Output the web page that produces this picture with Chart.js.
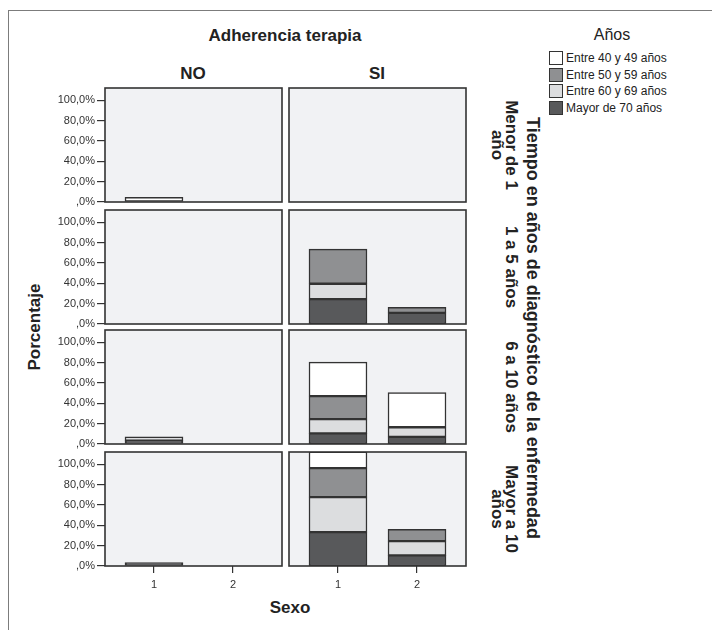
<!DOCTYPE html>
<html>
<head>
<meta charset="utf-8">
<script src="https://cdn.jsdelivr.net/npm/chart.js@4.4.1/dist/chart.umd.min.js"></script>
<style>
  body { margin: 0; background: #fff; font-family: "Liberation Sans", Arial, sans-serif; color: #222; }
  #stage { position: relative; width: 712px; height: 630px; overflow: hidden; }
  .frame { position: absolute; left: 8px; top: 10px; width: 720px; height: 640px; border: 1.5px solid #7c7c7c; }
  canvas { position: absolute; }
  .lbl { position: absolute; white-space: nowrap; font-weight: bold; font-size: 17px; text-align: center; line-height: 14px; transform: translate(-50%, -50%); }
  .rot90 { transform: translate(-50%, -50%) rotate(90deg); }
  .rotm90 { transform: translate(-50%, -50%) rotate(-90deg); }
  .legend { position: absolute; left: 549px; top: 50px; font-size: 12px; }
  .legend div { height: 16.5px; display: flex; align-items: center; }
  .legend span.box { width: 14px; height: 14px; border: 1px solid #333; margin-right: 3px; box-sizing: border-box; }
</style>
</head>
<body>
<div id="stage">
  <div class="frame"></div>
  <div class="lbl" style="left:285px; top:36px;">Adherencia terapia</div>
  <div class="lbl" style="left:193px; top:74px;">NO</div>
  <div class="lbl" style="left:377px; top:74px;">SI</div>
  <div class="lbl rotm90" style="left:35px; top:327px;">Porcentaje</div>
  <div class="lbl" style="left:290px; top:608px;">Sexo</div>
  <div class="lbl rot90" style="left:533px; top:328px; font-size:18px;">Tiempo en años de diagnóstico de la enfermedad</div>
  <div class="lbl" style="left:612px; top:35px; font-weight:normal; font-size:16px;">Años</div>
  <div class="legend" id="legend"></div>
</div>
<script>
const sexo = [1, 2];
const adherencia = ["NO", "SI"];
const tiempos = [["Menor de 1", "año"], ["1 a 5 años"], ["6 a 10 años"], ["Mayor a 10", "años"]];
const grupos = ["Entre 40 y 49 años", "Entre 50 y 59 años", "Entre 60 y 69 años", "Mayor de 70 años"];
const colores = ["#ffffff", "#8f9092", "#dcdddf", "#58595b"];
const ticksY = [0, 20, 40, 60, 80, 100];

// % per row of tiempos: [NO sexo 1, NO sexo 2, SI sexo 1, SI sexo 2]
const entre40 = [
  [4.5, 0, 0, 0],
  [0, 0, 0, 0],
  [0, 0, 33.5, 34],
  [0, 0, 16, 0],
];
const entre50 = [
  [0, 0, 0, 0],
  [0, 0, 34, 5.5],
  [0, 0, 22.5, 0],
  [0, 0, 28.5, 11.5],
];
const entre60 = [
  [0, 0, 0, 0],
  [0, 0, 15, 0],
  [3.7, 0, 14, 9.5],
  [0, 0, 34.3, 14],
];
const mayor70 = [
  [0, 0, 0, 0],
  [0, 0, 24.5, 11],
  [3.3, 0, 10.5, 7],
  [3.3, 0, 33.3, 10.5],
];
const series = [entre40, entre50, entre60, mayor70];

// panel geometry
const PANEL_X = [105, 289];
const PANEL_Y = [88, 210, 330, 452];
const PANEL_W = 177;
const PANEL_H = 114;
const PAD = 8;

const stage = document.getElementById("stage");
const fontFam = "'Liberation Sans', Arial, sans-serif";

// legend
const legend = document.getElementById("legend");
grupos.forEach((g, k) => {
  const row = document.createElement("div");
  row.innerHTML = `<span class="box" style="background:${colores[k]}"></span>${g}`;
  legend.appendChild(row);
});

// row labels on the right
tiempos.forEach((lines, r) => {
  const el = document.createElement("div");
  el.className = "lbl rot90";
  el.innerHTML = lines.join("<br>");
  el.style.left = (518 - lines.length * 7) + "px";
  el.style.top = (PANEL_Y[r] + PANEL_H / 2) + "px";
  stage.appendChild(el);
});

const panelBox = {
  id: "panelBox",
  beforeDraw(chart) {
    const { ctx, chartArea: a } = chart;
    ctx.save();
    ctx.fillStyle = "#f1f2f4";
    ctx.fillRect(a.left, a.top, a.right - a.left, a.bottom - a.top);
    ctx.restore();
  },
  afterDatasetsDraw(chart) {
    const { ctx, chartArea: a } = chart;
    ctx.save();
    ctx.strokeStyle = "#333";
    ctx.lineWidth = 1.6;
    ctx.strokeRect(a.left, a.top, a.right - a.left, a.bottom - a.top);
    ctx.restore();
  },
};

function pctLabel(v) {
  return v === 0 ? ",0%" : v.toFixed(1).replace(".", ",") + "%";
}

function makePanel(row, col) {
  const yW = col === 0 ? 64 : 0;
  const xH = row === tiempos.length - 1 ? 32 : 0;
  const w = yW + PANEL_W + PAD * 2;
  const h = PANEL_H + xH + PAD * 2;
  const cv = document.createElement("canvas");
  cv.width = w;
  cv.height = h;
  cv.style.width = w + "px";
  cv.style.height = h + "px";
  cv.style.left = (PANEL_X[col] - yW - PAD) + "px";
  cv.style.top = (PANEL_Y[row] - PAD) + "px";
  stage.appendChild(cv);

  // bottom of the stack first
  const datasets = [3, 2, 1, 0].map((k) => ({
    label: grupos[k],
    data: sexo.map((s, i) => ({ x: s, y: series[k][row][col * 2 + i] || null })),
    backgroundColor: colores[k],
    borderColor: "#333",
    borderWidth: 1.5,
    borderSkipped: false,
    barThickness: 58,
  }));

  return new Chart(cv, {
    type: "bar",
    data: { datasets },
    plugins: [panelBox],
    options: {
      responsive: false,
      animation: false,
      devicePixelRatio: 1,
      layout: { autoPadding: false, padding: PAD },
      plugins: { legend: { display: false }, tooltip: { enabled: false } },
      scales: {
        x: {
          type: "linear",
          stacked: true,
          offset: false,
          min: 0.38,
          max: 2.62,
          display: xH > 0,
          afterBuildTicks: (s) => { s.ticks = sexo.map((v) => ({ value: v })); },
          afterFit: (s) => { s.height = xH; s.paddingLeft = 0; s.paddingRight = 0; },
          grid: { offset: false, drawOnChartArea: false, tickLength: 7, color: "#333", lineWidth: 1.2 },
          border: { display: false },
          ticks: { color: "#333", padding: 5, font: { family: fontFam, size: 11 }, callback: (v) => String(v) },
        },
        y: {
          stacked: true,
          min: 0,
          max: 112,
          display: yW > 0,
          afterBuildTicks: (s) => { s.ticks = ticksY.map((v) => ({ value: v })); },
          afterFit: (s) => { s.width = yW; s.paddingTop = 0; s.paddingBottom = 0; },
          grid: { drawOnChartArea: false, tickLength: 8, color: "#333", lineWidth: 1.2 },
          border: { display: false },
          ticks: { color: "#333", padding: 2, font: { family: fontFam, size: 11 }, callback: pctLabel },
        },
      },
    },
  });
}

for (let r = 0; r < tiempos.length; r++) {
  for (let c = 0; c < adherencia.length; c++) {
    makePanel(r, c);
  }
}
</script>
</body>
</html>
